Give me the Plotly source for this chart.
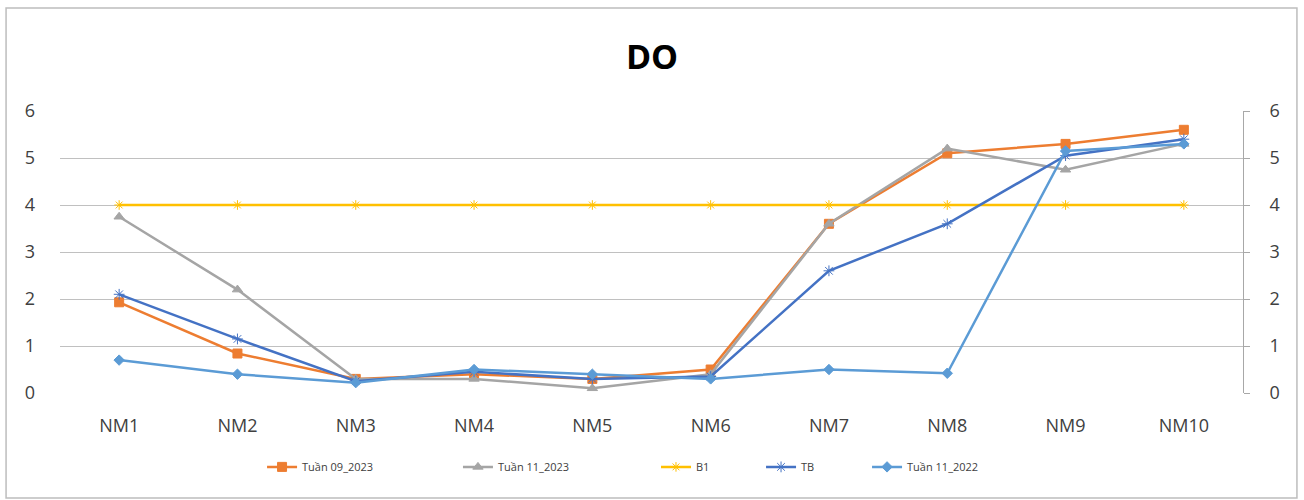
import plotly.graph_objects as go

# Monitoring points and DO readings per sampling period
stations = ["NM1", "NM2", "NM3", "NM4", "NM5", "NM6", "NM7", "NM8", "NM9", "NM10"]
tuan09_2023 = [1.93, 0.84, 0.3, 0.4, 0.3, 0.5, 3.6, 5.1, 5.3, 5.6]
tuan11_2023 = [3.75, 2.2, 0.3, 0.3, 0.1, 0.4, 3.6, 5.2, 4.75, 5.3]
b1_limit = [4, 4, 4, 4, 4, 4, 4, 4, 4, 4]
tb = [2.1, 1.15, 0.25, 0.45, 0.3, 0.35, 2.6, 3.6, 5.05, 5.4]
tuan11_2022 = [0.7, 0.4, 0.22, 0.5, 0.4, 0.3, 0.5, 0.42, 5.15, 5.3]
y_ticks = [0, 1, 2, 3, 4, 5, 6]

series = [
    ("Tuần 09_2023", tuan09_2023, "#ED7D31", "square", 9),
    ("Tuần 11_2023", tuan11_2023, "#A5A5A5", "triangle-up", 9),
    ("B1", b1_limit, "#FFC000", "asterisk-open", 8),
    ("TB", tb, "#4472C4", "asterisk-open", 9),
    ("Tuần 11_2022", tuan11_2022, "#5B9BD5", "diamond", 8),
]
# left edge (paper fraction) of each legend entry along the bottom row
legend_x = [0.1708, 0.3364, 0.5038, 0.5926, 0.6822]

legend_font = dict(family="Open Sans, Liberation Sans, sans-serif", size=11, color="#404040")

fig = go.Figure()
legend_layout = {}
for i, ((name, vals, color, symbol, size), lx) in enumerate(zip(series, legend_x)):
    key = "legend" if i == 0 else f"legend{i + 1}"
    fig.add_trace(go.Scatter(
        x=stations, y=vals, name=name, mode="lines+markers", legend=key,
        line=dict(color=color, width=2.5),
        marker=dict(symbol=symbol, size=size, color=color,
                    line=dict(color=color, width=1)),
    ))
    legend_layout[key] = dict(x=lx, xanchor="left", y=-0.262, yanchor="middle",
                              orientation="h", font=legend_font,
                              bgcolor="rgba(0,0,0,0)")

# invisible trace to carry the secondary (right-hand) axis
fig.add_trace(go.Scatter(x=stations, y=b1_limit, yaxis="y2", showlegend=False,
                         hoverinfo="skip", mode="lines",
                         line=dict(color="rgba(0,0,0,0)")))

tick_font = dict(family="Open Sans, Liberation Sans, sans-serif", size=18, color="#404040")

fig.update_layout(
    width=1304, height=500,
    margin=dict(l=60, r=61, t=111, b=107, autoexpand=False),
    paper_bgcolor="white", plot_bgcolor="white",
    title=dict(text="<b>DO</b>", x=0.5, xanchor="center", y=0.886, yanchor="middle",
               font=dict(family="Open Sans, Liberation Sans, sans-serif", size=34, color="#000000")),
    xaxis=dict(type="category", showgrid=False, showline=False, ticks="", automargin=False,
               tickfont=tick_font, ticklabelstandoff=20, range=[-0.5, 9.5]),
    yaxis=dict(range=[0, 6], tickvals=y_ticks, showgrid=True, gridcolor="#C0C0C0",
               gridwidth=1.2, zeroline=False, showline=False, ticks="", automargin=False,
               tickfont=tick_font, ticklabelstandoff=24),
    yaxis2=dict(range=[0, 6], tickvals=y_ticks, overlaying="y", side="right",
                showgrid=False, zeroline=False, showline=True, linecolor="#A8A8A8",
                ticks="outside", ticklen=6, tickcolor="#A8A8A8", automargin=False,
                tickfont=tick_font, ticklabelstandoff=16),
    shapes=[dict(type="rect", xref="paper", yref="paper",
                 x0=-0.0456, x1=1.0456, y0=-0.372, y1=1.365,
                 line=dict(color="#BDBDBD", width=1.5))],
    **legend_layout,
)

fig.write_html("out.html")
